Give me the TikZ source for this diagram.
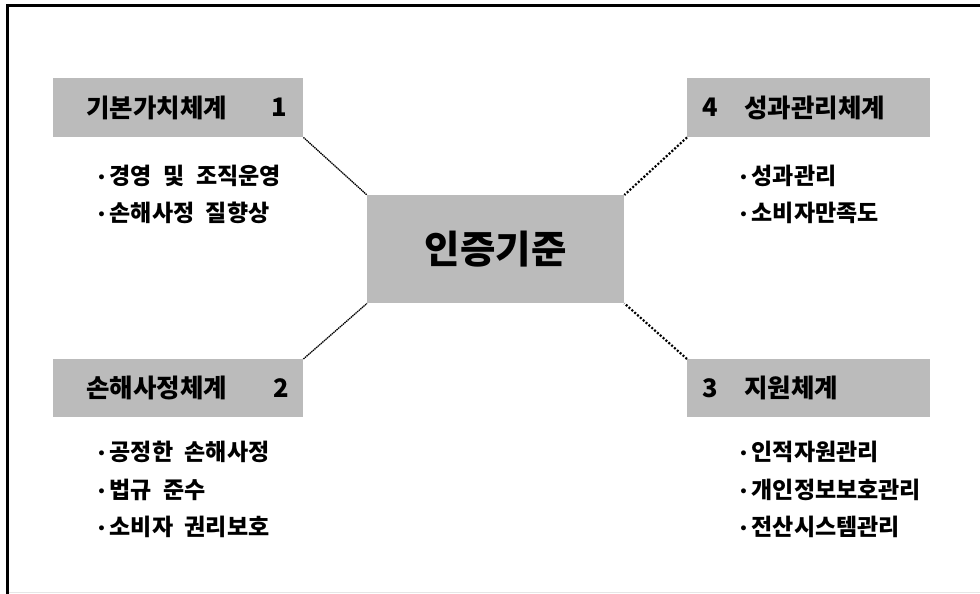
\documentclass[tikz,border=0pt]{standalone}
\usepackage{fontspec}
\newfontfamily\kr{Noto Sans CJK KR}[WordSpace=2.2]
\newfontfamily\dv{DejaVu Sans}
\newcommand{\bul}{\makebox[12.5pt][l]{\dv\fontsize{14}{14}\selectfont\raisebox{2.5pt}{•}}}
\definecolor{boxgray}{HTML}{BBBBBB}
\definecolor{edgegray}{HTML}{E6E6E6}
\begin{document}
\begin{tikzpicture}[x=1pt,y=-1pt,
  box/.style={fill=boxgray, draw=none, inner sep=0pt, anchor=north west},
  title/.style={font=\kr\bfseries\fontsize{25.5}{28}\selectfont, inner sep=0pt, text=black},
  item/.style={font=\kr\bfseries\fontsize{23}{26}\selectfont, inner sep=0pt, anchor=west, text=black},
  finedot/.style={line width=1.3pt, dash pattern=on 1.4pt off 0.7pt},
  bigdot/.style={line width=2.2pt, dash pattern=on 2pt off 1.8pt}
]
\useasboundingbox (0,0) rectangle (980,594);
% frame
\draw[edgegray, line width=1.5pt] (7,592.5) -- (980,592.5);
\draw[black, line width=3pt] (7.5,594) -- (7.5,5.5) -- (980,5.5);

% boxes
\node[box, minimum width=250pt, minimum height=59pt] (b1) at (53,78) {};
\node[box, minimum width=243pt, minimum height=59pt] (b4) at (687,78) {};
\node[box, minimum width=250pt, minimum height=58pt] (b2) at (53,359) {};
\node[box, minimum width=243pt, minimum height=58pt] (b3) at (687,359) {};
\node[box, minimum width=257pt, minimum height=108pt] (c) at (367,195) {};

% center text
\node[font=\kr\bfseries\fontsize{38.5}{42}\selectfont, inner sep=0pt] (ct) at (c.center) {인증기준};

% titles
\node[title, anchor=west] (t1) at (86,107.5) {기본가치체계};
\node[title, anchor=east] (n1) at (287,107.5) {1};
\node[title, anchor=west] (t2) at (86,388) {손해사정체계};
\node[title, anchor=east] (n2) at (289,388) {2};
\node[title, anchor=west] (n4) at (702,107.5) {4};
\node[title, anchor=west] (t4) at (744,107.5) {성과관리체계};
\node[title, anchor=west] (n3) at (702,388) {3};
\node[title, anchor=west] (t3) at (744,388) {지원체계};

% items
\node[item] (i11) at (97,176) {\bul 경영 및 조직운영};
\node[item] (i12) at (97,213) {\bul 손해사정 질향상};
\node[item] (i21) at (97,452) {\bul 공정한 손해사정};
\node[item] (i22) at (97,490) {\bul 법규 준수};
\node[item] (i23) at (97,527) {\bul 소비자 권리보호};
\node[item] (i41) at (739,176) {\bul 성과관리};
\node[item] (i42) at (739,213) {\bul 소비자만족도};
\node[item] (i31) at (739,452) {\bul 인적자원관리};
\node[item] (i32) at (739,490) {\bul 개인정보보호관리};
\node[item] (i33) at (739,527) {\bul 전산시스템관리};

% connectors
\draw[finedot] (b1.south east) -- (c.north west);
\draw[finedot] (b2.north east) -- (c.south west);
\draw[bigdot] (b4.south west) -- (c.north east);
\draw[bigdot] (b3.north west) -- (c.south east);
\end{tikzpicture}
\end{document}
